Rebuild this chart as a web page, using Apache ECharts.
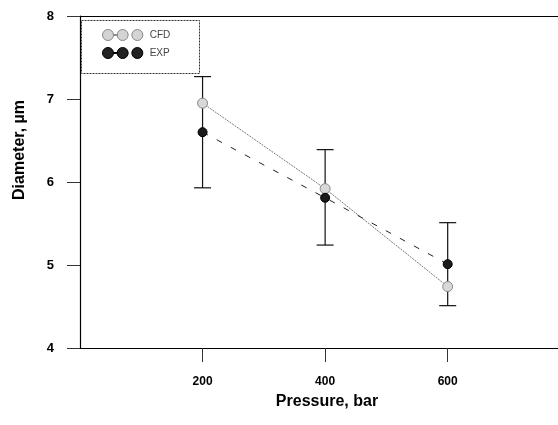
<!DOCTYPE html>
<html>
<head>
<meta charset="utf-8">
<script src="https://cdn.jsdelivr.net/npm/echarts@6/dist/echarts.min.js"></script>
<style>html,body{margin:0;padding:0;background:#fff;}#c{width:558px;height:425px;}</style>
</head>
<body>
<div id="c"></div>
<script>
var pressures = [200, 400, 600];
var cfdValues = [6.95, 5.92, 4.74];
var expValues = [6.60, 5.81, 5.01];
var expLow = [5.93, 5.24, 4.51];
var expHigh = [7.27, 6.39, 5.51];
var yTicks = [4, 5, 6, 7, 8];
var xTicks = [200, 400, 600];

var chart = echarts.init(document.getElementById('c'));
var threeCircles = 'path://M0,6a6,6 0 1,0 12,0a6,6 0 1,0 -12,0z M12,5.5h4v1h-4z M16,6a6,6 0 1,0 12,0a6,6 0 1,0 -12,0z M32,6a6,6 0 1,0 12,0a6,6 0 1,0 -12,0z';
var font = 'Liberation Sans, Arial, sans-serif';
chart.setOption({
  animation: false,
  grid: {left: 80, top: 16, right: 0, bottom: 77},
  legend: {
    left: 97, top: 24, orient: 'vertical', itemGap: 6,
    itemWidth: 44, itemHeight: 11,
    textStyle: {fontFamily: font, fontSize: 10, color: '#444'},
    data: [
      {name: 'CFD', icon: threeCircles, itemStyle: {color: '#d4d4d4', borderColor: '#888', borderWidth: 1}},
      {name: 'EXP', icon: threeCircles, itemStyle: {color: '#222', borderColor: '#000', borderWidth: 1}}
    ]
  },
  graphic: [
    {type: 'rect', left: 79, top: 18, shape: {width: 118, height: 53},
     style: {fill: 'none', stroke: '#333', lineWidth: 1, lineDash: [2, 1]}, z: 10},
    {type: 'text', x: 20, y: 150, rotation: Math.PI / 2,
     style: {text: 'Diameter, \u00b5m', font: 'bold 16px ' + font, fill: '#000', align: 'center', verticalAlign: 'middle'}}
  ],
  xAxis: [{
    type: 'value', min: 0, max: 780, interval: 200,
    name: 'Pressure, bar', nameLocation: 'middle', nameGap: 46,
    nameTextStyle: {fontFamily: font, fontSize: 16, fontWeight: 'bold', color: '#000', padding: [0, 0, 0, 16]},
    axisLine: {lineStyle: {color: '#000', width: 1.2}},
    axisTick: {show: true, length: 14, lineStyle: {color: '#333'}, customValues: xTicks},
    axisLabel: {margin: 28, fontFamily: font, fontSize: 12, fontWeight: 'bold', color: '#000', customValues: xTicks},
    splitLine: {show: false}
  }, {
    type: 'value', position: 'top', min: 0, max: 780,
    axisLine: {show: true, lineStyle: {color: '#000', width: 1.2}},
    axisTick: {show: false}, axisLabel: {show: false}, splitLine: {show: false}
  }],
  yAxis: {
    type: 'value', min: 4, max: 8, interval: 1,
    axisLine: {show: true, lineStyle: {color: '#000', width: 1.2}},
    axisTick: {show: true, length: 13, lineStyle: {color: '#333'}},
    axisLabel: {margin: 26, fontFamily: font, fontSize: 13, fontWeight: 'bold', color: '#000'},
    splitLine: {show: false}
  },
  series: [
    {
      name: 'EXP error', type: 'custom', z: 3,
      data: pressures.map(function (p, i) { return [p, expLow[i], expHigh[i]]; }),
      renderItem: function (params, api) {
        var lo = api.coord([api.value(0), api.value(1)]);
        var hi = api.coord([api.value(0), api.value(2)]);
        var hw = 8.5;
        var st = {stroke: '#111', lineWidth: 1.2};
        return {type: 'group', children: [
          {type: 'line', shape: {x1: lo[0], y1: lo[1], x2: hi[0], y2: hi[1]}, style: st},
          {type: 'line', shape: {x1: lo[0] - hw, y1: lo[1], x2: lo[0] + hw, y2: lo[1]}, style: st},
          {type: 'line', shape: {x1: hi[0] - hw, y1: hi[1], x2: hi[0] + hw, y2: hi[1]}, style: st}
        ]};
      }
    },
    {
      name: 'CFD', type: 'line', z: 4,
      data: pressures.map(function (p, i) { return [p, cfdValues[i]]; }),
      symbol: 'circle', symbolSize: 10,
      lineStyle: {color: '#777', width: 1, type: [2, 1]},
      itemStyle: {color: '#d8d8d8', borderColor: '#888', borderWidth: 1}
    },
    {
      name: 'EXP', type: 'line', z: 5,
      data: pressures.map(function (p, i) { return [p, expValues[i]]; }),
      symbol: 'circle', symbolSize: 9,
      lineStyle: {color: '#222', width: 1, type: [6, 10]},
      itemStyle: {color: '#1a1a1a', borderColor: '#000', borderWidth: 1}
    }
  ]
});
</script>
</body>
</html>
